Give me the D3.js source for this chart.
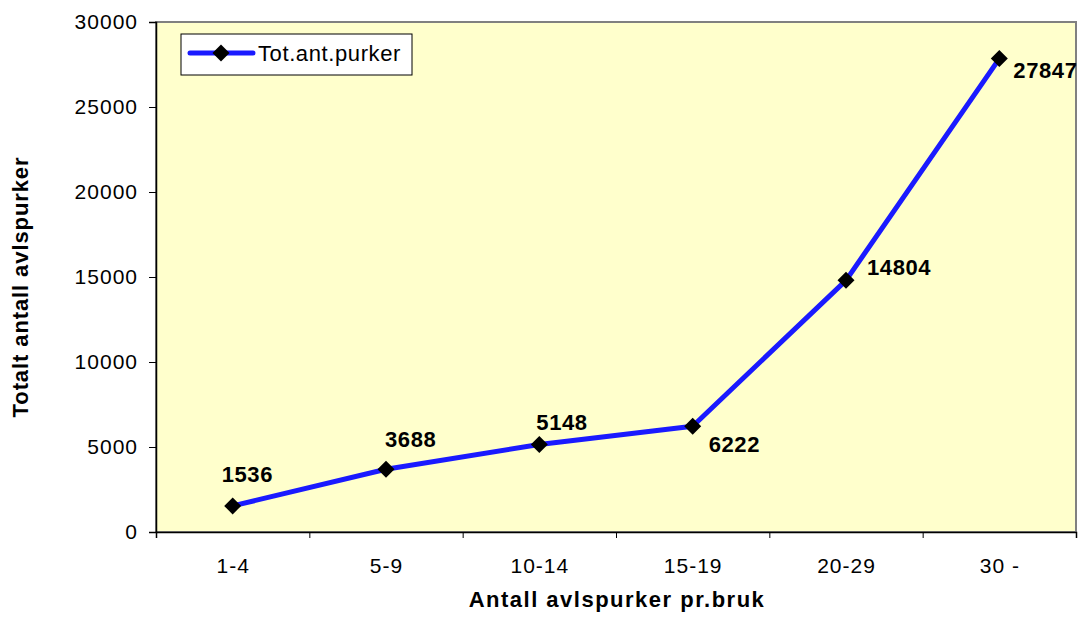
<!DOCTYPE html>
<html>
<head>
<meta charset="utf-8">
<script src="https://d3js.org/d3.v7.min.js"></script>
<style>
  html, body { margin: 0; padding: 0; background: #fff; }
  svg { display: block; }
  text { font-family: Arial, "Liberation Sans", sans-serif; }
</style>
</head>
<body>
<svg id="chart" width="1081" height="622"></svg>
<script>
const categories = ["1-4", "5-9", "10-14", "15-19", "20-29", "30 -"];
const values = [1536, 3688, 5148, 6222, 14804, 27847];
const yTicks = [0, 5000, 10000, 15000, 20000, 25000, 30000];
const seriesName = "Tot.ant.purker";
const xTitle = "Antall avlspurker pr.bruk";
const yTitle = "Totalt antall avlspurker";

// label offsets (dx from point to label's left edge, dy to baseline)
const labelOffsets = [[-11, -24], [-1, -22], [-3, -14], [16, 26], [21, -5], [14, 19]];

const svg = d3.select("#chart");
const L = 156, R = 1076, T = 22, B = 532;

const x = d3.scaleBand().domain(categories).range([L, R]).padding(0);
const y = d3.scaleLinear().domain([0, 30000]).range([B, T]);

// plot area background
svg.append("rect").attr("x", L).attr("y", T).attr("width", R - L).attr("height", B - T)
  .attr("fill", "#FFFFCC").attr("stroke", "#808080").attr("stroke-width", 2);

// y axis
const yAxis = svg.append("g").attr("transform", `translate(${L},0)`)
  .call(d3.axisLeft(y).tickValues(yTicks).tickSize(7).tickPadding(12).tickFormat(d3.format("d")));
yAxis.select(".domain").attr("stroke", "#000").attr("stroke-width", 1.5);
yAxis.selectAll(".tick line").attr("stroke", "#000");
yAxis.selectAll(".tick text").attr("font-size", 21).attr("fill", "#000")
  .attr("letter-spacing", 1).attr("dx", 1)
  .attr("font-family", "Arial, 'Liberation Sans', sans-serif");

// x axis: ticks at band edges
const xEdge = d3.scaleLinear().domain([0, categories.length]).range([L, R]);
const xAxisTicks = svg.append("g").attr("transform", `translate(0,${B})`)
  .call(d3.axisBottom(xEdge).ticks(categories.length).tickSize(6).tickFormat(""));
xAxisTicks.select(".domain").attr("stroke", "#000").attr("stroke-width", 1.5);
xAxisTicks.selectAll(".tick line").attr("stroke", "#000");

// x labels at band centers
const xAxisLabels = svg.append("g").attr("transform", `translate(0,${B})`)
  .call(d3.axisBottom(x).tickSize(0).tickPadding(26));
xAxisLabels.select(".domain").remove();
xAxisLabels.selectAll(".tick text").attr("font-size", 21).attr("fill", "#000")
  .attr("letter-spacing", 1).attr("dx", 0.5)
  .attr("font-family", "Arial, 'Liberation Sans', sans-serif");

// line
const cx = (d, i) => x(categories[i]) + x.bandwidth() / 2;
const line = d3.line().x((d, i) => cx(d, i)).y(d => y(d));
svg.append("path").datum(values).attr("d", line)
  .attr("fill", "none").attr("stroke", "#1a1aff").attr("stroke-width", 5)
  .attr("stroke-linejoin", "round");

// diamond markers
const diamond = "M0,-8.5L8.5,0L0,8.5L-8.5,0Z";
svg.selectAll(".mk").data(values).enter().append("path")
  .attr("d", diamond)
  .attr("transform", (d, i) => `translate(${cx(d, i)},${y(d)})`)
  .attr("fill", "#000");

// data labels
svg.selectAll(".lbl").data(values).enter().append("text")
  .attr("x", (d, i) => cx(d, i) + labelOffsets[i][0])
  .attr("y", (d, i) => y(d) + labelOffsets[i][1])
  .attr("font-size", 22).attr("font-weight", "bold").attr("fill", "#000")
  .attr("letter-spacing", 0.6)
  .text(d => d);

// axis titles
svg.append("text").attr("x", (L + R) / 2 + 1).attr("y", 607)
  .attr("text-anchor", "middle").attr("font-size", 22).attr("font-weight", "bold")
  .attr("letter-spacing", 1.5)
  .text(xTitle);
svg.append("text").attr("transform", "translate(28,287) rotate(-90)")
  .attr("text-anchor", "middle").attr("font-size", 22).attr("font-weight", "bold")
  .attr("letter-spacing", 0.9)
  .text(yTitle);

// legend
const lg = svg.append("g");
lg.append("rect").attr("x", 181).attr("y", 34).attr("width", 231).attr("height", 41)
  .attr("fill", "#fff").attr("stroke", "#000").attr("stroke-width", 1);
lg.append("line").attr("x1", 190).attr("x2", 253).attr("y1", 53).attr("y2", 53)
  .attr("stroke", "#1a1aff").attr("stroke-width", 5).attr("stroke-linecap", "round");
lg.append("path").attr("d", diamond).attr("transform", "translate(221,53)").attr("fill", "#000");
lg.append("text").attr("x", 258).attr("y", 61).attr("font-size", 22).attr("fill", "#000")
  .attr("letter-spacing", 0.6)
  .text(seriesName);
</script>
</body>
</html>
